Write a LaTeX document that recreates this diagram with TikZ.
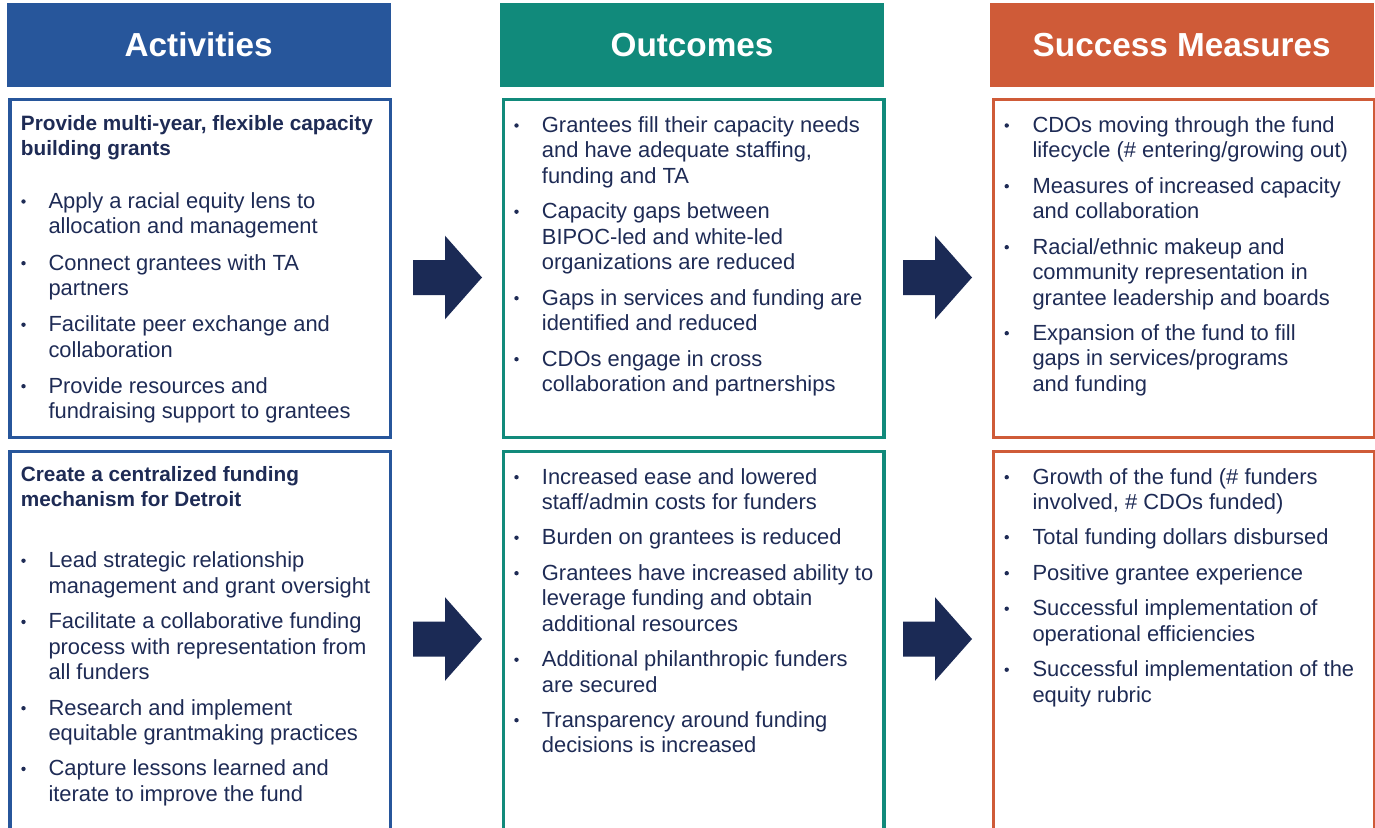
\documentclass[tikz,border=0pt]{standalone}
\usepackage{fontspec}
\setmainfont{Liberation Sans}
\definecolor{cA}{HTML}{27569B}
\definecolor{cB}{HTML}{118A7B}
\definecolor{cC}{HTML}{CF5B38}
\definecolor{ink}{HTML}{1E2B55}
\definecolor{navy}{HTML}{1B2A55}
\newlength\wBody
\newlength\wBold
\newlength\wHead
\newcommand\lmitem[5]{%
  \node[dotsty] (#1d) at (#2,#4-6.8) {};
  \node[bodysty] (#1) at (#3,#4) {\parbox[t]{345pt}{\raggedright #5}};
}
\begin{document}
\settowidth\wBody{\normalfont\fontsize{10pt}{12pt}\selectfont Grantees fill their capacity needs}%
\settowidth\wBold{\normalfont\fontsize{10pt}{12pt}\selectfont\bfseries Provide multi-year, flexible capacity}%
\settowidth\wHead{\normalfont\fontsize{10pt}{12pt}\selectfont\bfseries Success Measures}%
\pgfmathsetmacro\fsBody{10*318/\wBody}%
\pgfmathsetmacro\fsBold{10*352/\wBold}%
\pgfmathsetmacro\fsHead{10*298/\wHead}%
\begin{tikzpicture}[x=1pt,y=-1pt]
\tikzset{
  hdr/.style={inner sep=0, minimum width=384, minimum height=84, text=white,
    font=\fontsize{\fsHead pt}{\fsHead pt}\selectfont\bfseries},
  boxsty/.style={draw=#1, line width=3.3pt, anchor=north west, inner sep=0, fill=white},
  bodysty/.style={anchor=base west, inner sep=0, text=ink,
    font=\fontsize{\fsBody pt}{25.6pt}\selectfont},
  titlesty/.style={anchor=base west, inner sep=0, text=ink,
    font=\fontsize{\fsBold pt}{25.6pt}\selectfont\bfseries},
  dotsty/.style={circle, fill=ink, inner sep=0, minimum size=4.4pt},
  arr/.style={fill=navy}
}
\useasboundingbox (0,0) rectangle (1375,827);
\fill[white] (0,0) rectangle (1375,827);

% headers
\node[hdr, fill=cA] (hA) at (198.7,44.7) {Activities};
\node[hdr, fill=cB] (hB) at (692,44.7) {Outcomes};
\node[hdr, fill=cC] (hC) at (1181.7,44.7) {Success Measures};

% boxes
\node[boxsty=cA, minimum width=380.2, minimum height=338.3] (bA1) at (8.3,97.7) {};
\node[boxsty=cA, minimum width=380.2, minimum height=379] (bA2) at (8.3,450) {};
\node[boxsty=cB, minimum width=380.6, minimum height=338.3] (bB1) at (501.7,97.7) {};
\node[boxsty=cB, minimum width=380.6, minimum height=379] (bB2) at (501.7,450) {};
\node[boxsty=cC, minimum width=380.5, minimum height=338.3] (bC1) at (992,97.7) {};
\node[boxsty=cC, minimum width=380.5, minimum height=379] (bC2) at (992,450) {};

% arrows
\fill[arr] (413,260) -- (445,260) -- (445,235.7) -- (482,277.5) -- (445,319.3) -- (445,295) -- (413,295) -- cycle;
\fill[arr] (413,621.5) -- (445,621.5) -- (445,597.2) -- (482,639) -- (445,680.8) -- (445,656.5) -- (413,656.5) -- cycle;
\fill[arr] (903,260) -- (935,260) -- (935,235.7) -- (972,277.5) -- (935,319.3) -- (935,295) -- (903,295) -- cycle;
\fill[arr] (903,621.5) -- (935,621.5) -- (935,597.2) -- (972,639) -- (935,680.8) -- (935,656.5) -- (903,656.5) -- cycle;

% Activities top
\node[titlesty] (tA1) at (20.7,130) {\parbox[t]{360pt}{\raggedright Provide multi-year, flexible capacity\\building grants}};
\lmitem{a1}{23.5}{48.3}{208.3}{Apply a racial equity lens to\\allocation and management}
\lmitem{a2}{23.5}{48.3}{270}{Connect grantees with TA\\partners}
\lmitem{a3}{23.5}{48.3}{331.5}{Facilitate peer exchange and\\collaboration}
\lmitem{a4}{23.5}{48.3}{393}{Provide resources and\\fundraising support to grantees}

% Activities bottom
\node[titlesty] (tA2) at (20.7,481) {\parbox[t]{360pt}{\raggedright Create a centralized funding\\mechanism for Detroit}};
\lmitem{a5}{23.5}{48.3}{567.5}{Lead strategic relationship\\management and grant oversight}
\lmitem{a6}{23.5}{48.3}{628.7}{Facilitate a collaborative funding\\process with representation from\\all funders}
\lmitem{a7}{23.5}{48.3}{715}{Research and implement\\equitable grantmaking practices}
\lmitem{a8}{23.5}{48.3}{775.7}{Capture lessons learned and\\iterate to improve the fund}

% Outcomes top
\lmitem{o1}{516.5}{541.7}{132.3}{Grantees fill their capacity needs\\and have adequate staffing,\\funding and TA}
\lmitem{o2}{516.5}{541.7}{218.5}{Capacity gaps between\\BIPOC-led and white-led\\organizations are reduced}
\lmitem{o3}{516.5}{541.7}{305}{Gaps in services and funding are\\identified and reduced}
\lmitem{o4}{516.5}{541.7}{366}{CDOs engage in cross\\collaboration and partnerships}

% Outcomes bottom
\lmitem{o5}{516.5}{541.7}{484}{Increased ease and lowered\\staff/admin costs for funders}
\lmitem{o6}{516.5}{541.7}{544.5}{Burden on grantees is reduced}
\lmitem{o7}{516.5}{541.7}{580}{Grantees have increased ability to\\leverage funding and obtain\\additional resources}
\lmitem{o8}{516.5}{541.7}{666.5}{Additional philanthropic funders\\are secured}
\lmitem{o9}{516.5}{541.7}{727}{Transparency around funding\\decisions is increased}

% Success top
\lmitem{s1}{1006.7}{1032.3}{132.3}{CDOs moving through the fund\\lifecycle (\# entering/growing out)}
\lmitem{s2}{1006.7}{1032.3}{193}{Measures of increased capacity\\and collaboration}
\lmitem{s3}{1006.7}{1032.3}{254}{Racial/ethnic makeup and\\community representation in\\grantee leadership and boards}
\lmitem{s4}{1006.7}{1032.3}{340}{Expansion of the fund to fill\\gaps in services/programs\\and funding}

% Success bottom
\lmitem{s5}{1006.7}{1032.3}{484}{Growth of the fund (\# funders\\involved, \# CDOs funded)}
\lmitem{s6}{1006.7}{1032.3}{544}{Total funding dollars disbursed}
\lmitem{s7}{1006.7}{1032.3}{580}{Positive grantee experience}
\lmitem{s8}{1006.7}{1032.3}{615.5}{Successful implementation of\\operational efficiencies}
\lmitem{s9}{1006.7}{1032.3}{676.5}{Successful implementation of the\\equity rubric}
\end{tikzpicture}
\end{document}
